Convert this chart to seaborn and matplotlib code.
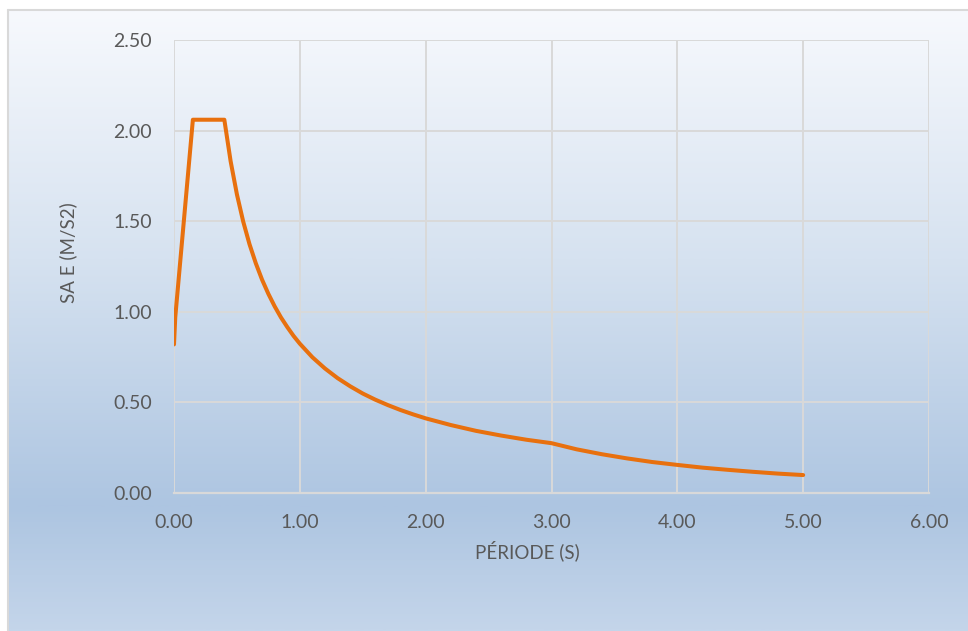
import numpy as np
import pandas as pd
import matplotlib
matplotlib.use("Agg")
import matplotlib.pyplot as plt
from matplotlib.colors import LinearSegmentedColormap
from matplotlib.lines import Line2D
import seaborn as sns

# Elastic response spectrum: period (s) and spectral acceleration (m/s2)
periods = [0.00, 0.01, 0.15, 0.40, 0.45, 0.50, 0.55, 0.60, 0.65, 0.70, 0.75,
           0.80, 0.85, 0.90, 0.95, 1.00, 1.10, 1.20, 1.30, 1.40, 1.50, 1.60,
           1.70, 1.80, 1.90, 2.00, 2.20, 2.40, 2.60, 2.80, 3.00, 3.20, 3.40,
           3.60, 3.80, 4.00, 4.20, 4.40, 4.60, 4.80, 5.00]
sa_values = [0.82, 0.97, 2.06, 2.06, 1.831, 1.648, 1.498, 1.373, 1.268, 1.177,
             1.099, 1.030, 0.969, 0.916, 0.867, 0.824, 0.749, 0.687, 0.634,
             0.589, 0.549, 0.515, 0.485, 0.458, 0.434, 0.412, 0.375, 0.343,
             0.317, 0.294, 0.275, 0.241, 0.214, 0.191, 0.171, 0.155, 0.140,
             0.128, 0.117, 0.107, 0.099]

x_ticks = [0, 1, 2, 3, 4, 5, 6]
y_ticks = [0.0, 0.5, 1.0, 1.5, 2.0, 2.5]
x_label = "PÉRIODE (S)"
y_label = "SA E (M/S2)"

sns.set_theme(style="white")
plt.rcParams["font.family"] = ["Lato", "DejaVu Sans"]

W, H = 968, 631
fig = plt.figure(figsize=(W / 100, H / 100), dpi=100)
fig.patch.set_facecolor("white")

# Chart-area background with vertical gradient
x0, y1 = 8 / W, 1 - 10 / H
bg = fig.add_axes([x0, 0, 1 - x0, y1], zorder=0)
cmap = LinearSegmentedColormap.from_list(
    "bg", [(0.0, "#f7f9fd"), (0.40, "#d6e2f0"), (0.80, "#adc5e1"), (1.0, "#c4d5ea")])
grad = np.linspace(0, 1, 512).reshape(-1, 1)
bg.imshow(grad, aspect="auto", cmap=cmap, extent=[0, 1, 0, 1], origin="upper")
bg.set_axis_off()
for xs, ys in [([x0, x0], [0, y1]), ([x0, 1], [y1, y1])]:
    fig.add_artist(Line2D(xs, ys, transform=fig.transFigure, color="#d9d9d9",
                          linewidth=1.5, zorder=1))

ax = fig.add_axes([174 / W, (H - 493) / H, (929 - 174) / W, (493 - 40) / H], zorder=2)
ax.set_facecolor("none")

df = pd.DataFrame({"T": periods, "Sa": sa_values})
sns.lineplot(data=df, x="T", y="Sa", ax=ax, color="#e8700e", linewidth=2.9,
             estimator=None, sort=False, zorder=3)

ax.set_xlim(0, 6)
ax.set_ylim(0, 2.5)
ax.set_xticks(x_ticks)
ax.set_yticks(y_ticks)
ax.set_xticklabels([f"{v:.2f}" for v in x_ticks])
ax.set_yticklabels([f"{v:.2f}" for v in y_ticks])
ax.grid(True, color="#d9d9d9", linewidth=1.4)
ax.set_axisbelow(True)
for side in ["left", "right", "top"]:
    ax.spines[side].set_visible(False)
ax.spines["bottom"].set_color("#d9d9d9")
ax.spines["bottom"].set_linewidth(1.6)

label_color = "#595959"
ax.tick_params(axis="both", length=0, labelsize=14, labelcolor=label_color)
ax.tick_params(axis="y", pad=16)
ax.tick_params(axis="x", pad=15)

ax.set_xlabel(x_label, fontsize=13.5, color=label_color)
ax.set_ylabel(y_label, fontsize=13.5, color=label_color)
ax.xaxis.set_label_coords((527 - 174) / 755, -(551 - 493) / 453, transform=ax.transAxes)
ax.xaxis.label.set_verticalalignment("center")
ax.yaxis.set_label_coords(-(174 - 68) / 755, (493 - 253) / 453, transform=ax.transAxes)
ax.yaxis.label.set_verticalalignment("center")

fig.savefig("out.png", dpi=100)
